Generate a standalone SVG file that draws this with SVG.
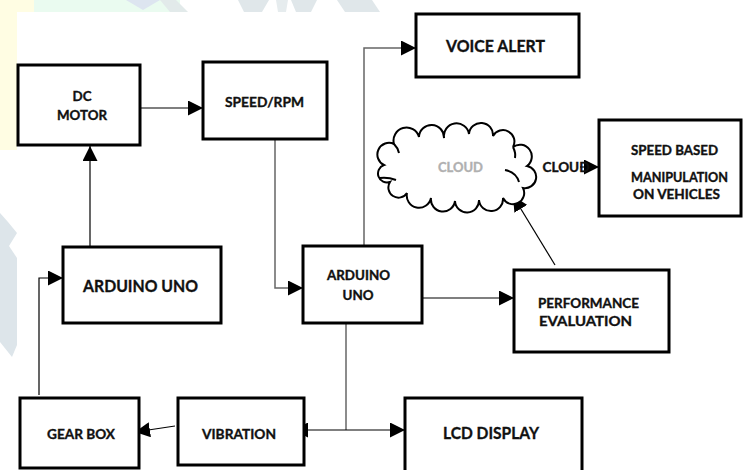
<svg xmlns="http://www.w3.org/2000/svg" width="744" height="470" viewBox="0 0 744 470">
<defs>
<style>
.box{fill:#fff;stroke:#000;stroke-width:3}
.t{font-family:Lato,"Open Sans","Liberation Sans",sans-serif;font-weight:bold;fill:#111;stroke:#111;stroke-width:0.35;text-anchor:middle}
.lg{font-size:17px}
.md{font-size:13.5px}
.sm{font-size:12.5px}
.c{fill:none;stroke:#000;stroke-width:1.2}
.g{fill:none;stroke:#666;stroke-width:1.5}
.wm{stroke:none}
.cl{fill:none;stroke:#000;stroke-width:2}
</style>
<marker id="ah" markerUnits="userSpaceOnUse" markerWidth="16" markerHeight="15" refX="15" refY="7.5" orient="auto">
<path d="M0,0 L15,7.5 L0,15 Z" fill="#000"/>
</marker>
<marker id="ahs" markerUnits="userSpaceOnUse" markerWidth="16" markerHeight="15" refX="15" refY="7.5" orient="auto-start-reverse">
<path d="M0,0 L15,7.5 L0,15 Z" fill="#000"/>
</marker>
</defs>
<rect width="744" height="470" fill="#fff"/>
<g id="watermark">
<rect class="wm" x="0" y="0" width="34" height="12" fill="#fffde3"/>
<rect class="wm" x="0" y="12" width="17" height="138" fill="#fffde3"/>
<rect class="wm" x="34" y="0" width="146" height="12" fill="#eafbf0"/>
<polygon class="wm" points="126,0 160,0 143,10" fill="#dde5f0"/>
<polygon class="wm" points="160,0 176,0 188,12 170,12" fill="#e2eaea"/>
<polygon class="wm" points="238,0 269,0 262,12 244,12" fill="#e0e7ea"/>
<polygon class="wm" points="276,0 288,0 286,12 278,12" fill="#e6ecee"/>
<polygon class="wm" points="291,0 317,0 311,12 296,12" fill="#e0e7ea"/>
<polygon class="wm" points="337,0 372,0 380,12 345,12" fill="#e0e7ea"/>
<polygon class="wm" points="0,213 8,222 17,233 9,246 17,258 17,345 12,357 0,342" fill="#dde5ea"/>
</g>
<g id="connectors">
<line class="c" x1="141" y1="108" x2="203" y2="108" marker-end="url(#ah)"/>
<path class="g" d="M275,139 V288 H303" marker-end="url(#ah)"/>
<path class="g" d="M364,246 V48 H416" marker-end="url(#ah)"/>
<line class="c" x1="418" y1="298" x2="514" y2="298" stroke-width="2" marker-end="url(#ah)"/>
<line class="c" x1="555" y1="265" x2="513" y2="196" stroke-width="1.5" marker-end="url(#ah)"/>
<line class="c" x1="580" y1="167" x2="599" y2="167" marker-end="url(#ah)"/>
<line class="c" x1="90" y1="247" x2="90" y2="146" marker-end="url(#ah)"/>
<path class="c" d="M39,395 V278 H63" marker-end="url(#ah)"/>
<line class="c" x1="175" y1="426" x2="135" y2="432" stroke-width="1.5" marker-end="url(#ah)"/>
<line class="g" x1="346" y1="323" x2="346" y2="430"/>
<line class="c" x1="293" y1="430" x2="405" y2="430" stroke-width="2" marker-start="url(#ahs)" marker-end="url(#ah)"/>
</g>
<g id="dc-motor">
<rect class="box" x="18" y="65" width="122" height="80"/>
<text class="t md" x="82" y="101" textLength="19" lengthAdjust="spacingAndGlyphs">DC</text>
<text class="t md" x="82" y="120" textLength="50" lengthAdjust="spacingAndGlyphs">MOTOR</text>
</g>
<g id="speed-rpm">
<rect class="box" x="203" y="62" width="124" height="77"/>
<text class="t md" x="264.5" y="107" textLength="79" lengthAdjust="spacingAndGlyphs">SPEED/RPM</text>
</g>
<g id="voice-alert">
<rect class="box" x="416" y="14" width="163" height="63"/>
<text class="t lg" x="495.5" y="52" textLength="99" lengthAdjust="spacingAndGlyphs">VOICE ALERT</text>
</g>
<g id="cloud">
<path d="M384,165 A1,1 0 0 1 394,144 A1,1 0 0 1 419,137 A1,1 0 0 1 444,138 A1,1 0 0 1 469,134 A1,1 0 0 1 493,136 A1,1 0 0 1 513,147 A1,1 0 0 1 527,166 A1,1 0 0 1 523,188 A1,1 0 0 1 503,198 A1,1 0 0 1 479,200 A1,1 0 0 1 455,201 A1,1 0 0 1 431,198 A1,1 0 0 1 407,193 A1,1 0 0 1 390,182 A1,1 0 0 1 384,165 Z" fill="#fff" stroke="#000" stroke-width="2"/>
<path class="cl" d="M505,170 Q516,172 519,182"/>
<path class="cl" d="M380,178 Q388,177 396,180"/>
<path class="cl" d="M394,144 Q398,148 399,153"/>
<path class="cl" d="M513,147 Q516,153 515,158"/>
<text class="t sm" x="460.5" y="172" style="fill:#b0b0b0;stroke:#b0b0b0" textLength="45" lengthAdjust="spacingAndGlyphs">CLOUD</text>
</g>
<text class="t sm" x="566" y="172" textLength="47" lengthAdjust="spacingAndGlyphs">CLOUD</text>
<g id="speed-based">
<rect class="box" x="599" y="120" width="142" height="96" stroke-width="2.5"/>
<text class="t sm" x="674.5" y="155" textLength="87" lengthAdjust="spacingAndGlyphs">SPEED BASED</text>
<text class="t sm" x="679.5" y="182" textLength="97" lengthAdjust="spacingAndGlyphs">MANIPULATION</text>
<text class="t sm" x="676.5" y="199" textLength="87" lengthAdjust="spacingAndGlyphs">ON VEHICLES</text>
</g>
<g id="arduino-left">
<rect class="box" x="63" y="247" width="158" height="76"/>
<text class="t lg" x="140.5" y="292" textLength="115" lengthAdjust="spacingAndGlyphs">ARDUINO UNO</text>
</g>
<g id="arduino-mid">
<rect class="box" x="303" y="246" width="119" height="77"/>
<text class="t sm" x="358.5" y="280" textLength="63" lengthAdjust="spacingAndGlyphs">ARDUINO</text>
<text class="t sm" x="358" y="300" textLength="31" lengthAdjust="spacingAndGlyphs">UNO</text>
</g>
<g id="performance">
<rect class="box" x="514" y="270" width="155" height="82"/>
<text class="t md" x="588.5" y="308" textLength="101" lengthAdjust="spacingAndGlyphs">PERFORMANCE</text>
<text class="t md" x="585.5" y="326" textLength="93" lengthAdjust="spacingAndGlyphs">EVALUATION</text>
</g>
<g id="gear-box">
<rect class="box" x="20" y="398" width="119" height="70"/>
<text class="t md" x="81" y="439" textLength="68" lengthAdjust="spacingAndGlyphs">GEAR BOX</text>
</g>
<g id="vibration">
<rect class="box" x="178" y="398" width="126" height="67"/>
<text class="t md" x="239" y="439" textLength="74" lengthAdjust="spacingAndGlyphs">VIBRATION</text>
</g>
<g id="lcd-display">
<rect class="box" x="405" y="398" width="177" height="80"/>
<text class="t lg" x="491" y="439" textLength="96" lengthAdjust="spacingAndGlyphs">LCD DISPLAY</text>
</g>
</svg>
